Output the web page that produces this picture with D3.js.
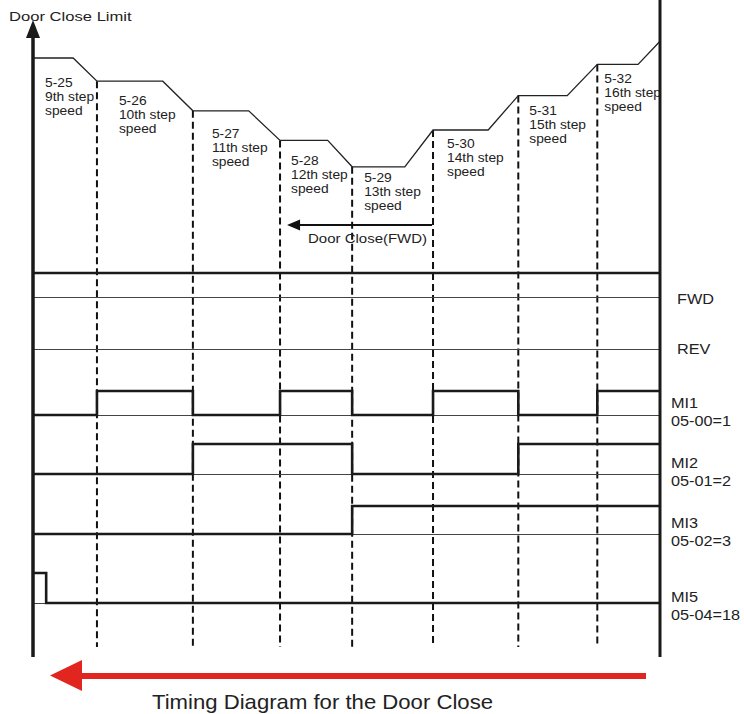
<!DOCTYPE html>
<html>
<head>
<meta charset="utf-8">
<script src="https://cdn.jsdelivr.net/npm/d3@7"></script>
<style>
  html, body { margin: 0; padding: 0; background: #ffffff; }
  svg { display: block; }
  text { font-family: "Liberation Sans", Arial, Helvetica, sans-serif; fill: #222; }
</style>
</head>
<body>
<svg id="chart" width="744" height="714"></svg>
<script>
// ---------------- DATA ----------------
const stepCodes  = ["5-25", "5-26", "5-27", "5-28", "5-29", "5-30", "5-31", "5-32"];
const stepNames  = ["9th step", "10th step", "11th step", "12th step", "13th step", "14th step", "15th step", "16th step"];
const stepSpeeds = [82.5, 68, 49.5, 31, 14.5, 37.5, 59, 78.5];   // relative speed level of each step
const endSpeed   = 93;                                           // speed at door close limit
const stepStart  = [0, 10.2, 25.5, 39.4, 50.9, 63.8, 77.4, 90.0]; // time each step begins
const rampStart  = [6.4, 20.7, 34.4, 47.0, 59.3, 72.6, 85.2, 96.5]; // time the speed change begins
const timeEnd    = 100;

const signalNames  = ["FWD", "REV", "MI1", "MI2", "MI3", "MI5"];
const signalParams = ["", "", "05-00=1", "05-01=2", "05-02=3", "05-04=18"];
const fwdState = [1, 1, 1, 1, 1, 1, 1, 1];
const mi1State = [0, 1, 0, 1, 0, 1, 0, 1];
const mi2State = [0, 0, 1, 1, 0, 0, 1, 1];
const mi3State = [0, 0, 0, 0, 1, 1, 1, 1];
const mi5Pulse = [0, 2.1];   // MI5 high interval (time)

const titleText = "Timing Diagram for the Door Close";
const axisLabel = "Door Close Limit";
const dirLabel  = "Door Close(FWD)";

// ---------------- LAYOUT ----------------
const rowBase  = { FWD: 297, REV: 349, MI1: 415, MI2: 474, MI3: 534, MI5: 603 };
const rowHigh  = { FWD: 24, REV: 24, MI1: 24, MI2: 30, MI3: 28, MI5: 30 };
const labelDx  = [12, 22, 19, 11, 12, 14, 11, 7];
const labelDy  = [29, 24, 27, 25, 15, 18, 19, 19];

const svg = d3.select("#chart");
const x = d3.scaleLinear().domain([0, timeEnd]).range([33, 660]);
const y = d3.scaleLinear().domain([0, 100]).range([190, 30]);

function stretchText(g, px, py, str, size, sx) {
  return g.append("text")
    .attr("transform", `translate(${px},${py}) scale(${sx},1)`)
    .attr("font-size", size)
    .text(str);
}

// dashed step boundaries
const dashG = svg.append("g");
stepStart.slice(1).forEach((t, i) => {
  dashG.append("line")
    .attr("x1", x(t)).attr("x2", x(t))
    .attr("y1", y(stepSpeeds[i + 1])).attr("y2", 647)
    .attr("stroke", "#111").attr("stroke-width", 2)
    .attr("stroke-dasharray", "7,4");
});

// speed profile
const profile = [];
stepSpeeds.forEach((v, i) => {
  profile.push([stepStart[i], v]);
  profile.push([rampStart[i], v]);
});
profile.push([timeEnd, endSpeed]);
svg.append("path")
  .attr("d", d3.line().x(d => x(d[0])).y(d => y(d[1]))(profile))
  .attr("fill", "none").attr("stroke", "#222").attr("stroke-width", 1.3);

// step labels
stepCodes.forEach((c, i) => {
  const lx = x(stepStart[i]) + labelDx[i];
  const ly = y(stepSpeeds[i]) + labelDy[i];
  [c, stepNames[i], "speed"].forEach((s, k) => {
    stretchText(svg, lx, ly + k * 14, s, 12, 1.15);
  });
});

// Door Close(FWD) arrow
const dirY = 225;
svg.append("line").attr("x1", x(stepStart[5]) - 1).attr("x2", x(39.4) + 18)
  .attr("y1", dirY).attr("y2", dirY).attr("stroke", "#111").attr("stroke-width", 2);
svg.append("path")
  .attr("d", d3.line()([[x(39.4) + 7, dirY], [x(39.4) + 20, dirY - 5.5], [x(39.4) + 20, dirY + 5.5]]) + "Z")
  .attr("fill", "#111");
stretchText(svg, 308, 243, dirLabel, 12.5, 1.2);

// signal rows: baselines
signalNames.forEach(n => {
  svg.append("line").attr("x1", x(0)).attr("x2", x(timeEnd))
    .attr("y1", rowBase[n] + 0.5).attr("y2", rowBase[n] + 0.5)
    .attr("stroke", "#444").attr("stroke-width", 1);
});

function stateWave(states, name) {
  const pts = [];
  states.forEach((s, i) => {
    const t0 = stepStart[i], t1 = i + 1 < states.length ? stepStart[i + 1] : timeEnd;
    const yy = rowBase[name] - (s ? rowHigh[name] : 0);
    pts.push([x(t0), yy], [x(t1), yy]);
  });
  return pts;
}
function drawWave(pts) {
  svg.append("path").attr("d", d3.line()(pts))
    .attr("fill", "none").attr("stroke", "#1a1a1a").attr("stroke-width", 2.6);
}
drawWave(stateWave(fwdState, "FWD"));
drawWave(stateWave(mi1State, "MI1"));
drawWave(stateWave(mi2State, "MI2"));
drawWave(stateWave(mi3State, "MI3"));
drawWave([
  [x(mi5Pulse[0]), rowBase.MI5 - rowHigh.MI5], [x(mi5Pulse[1]), rowBase.MI5 - rowHigh.MI5],
  [x(mi5Pulse[1]), rowBase.MI5], [x(timeEnd), rowBase.MI5]
]);

// left axis with arrow
svg.append("line").attr("x1", x(0)).attr("x2", x(0)).attr("y1", 35).attr("y2", 657)
  .attr("stroke", "#1a1a1a").attr("stroke-width", 3.5);
svg.append("path").attr("d", d3.line()([[x(0), 20], [x(0) - 7, 38], [x(0) + 7, 38]]) + "Z")
  .attr("fill", "#1a1a1a");
// right limit line
svg.append("line").attr("x1", x(timeEnd)).attr("x2", x(timeEnd)).attr("y1", 0).attr("y2", 657)
  .attr("stroke", "#1a1a1a").attr("stroke-width", 3);

stretchText(svg, 9, 21, axisLabel, 13.5, 1.23);

// right labels
const rightLab = { FWD: [677, 304], REV: [677, 354], MI1: [671, 408], MI2: [671, 468], MI3: [671, 528], MI5: [671, 602] };
signalNames.forEach((n, i) => {
  const [lx, ly] = rightLab[n];
  stretchText(svg, lx, ly, n, 14, 1.16);
  if (signalParams[i]) stretchText(svg, lx, ly + 18, signalParams[i], 14, 1.16);
});

// red direction arrow
svg.append("line").attr("x1", 78).attr("x2", 646).attr("y1", 676).attr("y2", 676)
  .attr("stroke", "#e0261e").attr("stroke-width", 6);
svg.append("path").attr("d", d3.line()([[50, 675.5], [82, 660], [82, 691]]) + "Z")
  .attr("fill", "#e0261e");

// title
svg.append("text").attr("x", 152).attr("y", 709).attr("font-size", 21)
  .attr("textLength", 341).attr("lengthAdjust", "spacingAndGlyphs")
  .text(titleText);
</script>
</body>
</html>
